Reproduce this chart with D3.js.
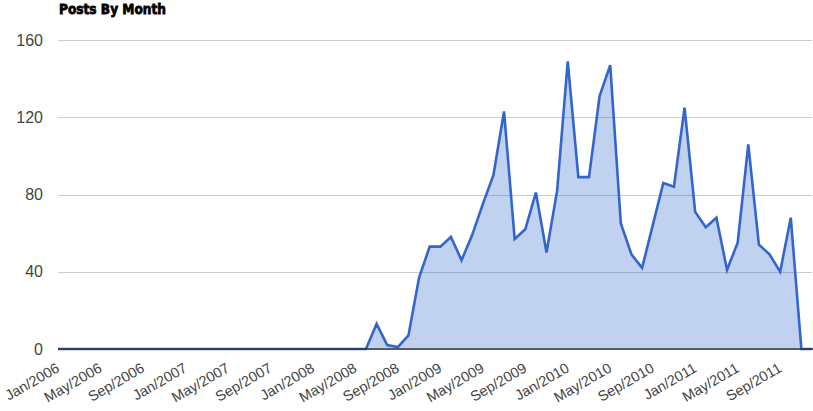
<!DOCTYPE html>
<html>
<head>
<meta charset="utf-8">
<script src="https://cdn.jsdelivr.net/npm/d3@7"></script>
<style>
  html, body { margin: 0; padding: 0; background: #fff; }
  svg { display: block; }
</style>
</head>
<body>
<svg id="chart" width="813" height="411"></svg>
<script>
const months = [
  "Jan/2006","Feb/2006","Mar/2006","Apr/2006","May/2006","Jun/2006","Jul/2006","Aug/2006","Sep/2006","Oct/2006","Nov/2006","Dec/2006",
  "Jan/2007","Feb/2007","Mar/2007","Apr/2007","May/2007","Jun/2007","Jul/2007","Aug/2007","Sep/2007","Oct/2007","Nov/2007","Dec/2007",
  "Jan/2008","Feb/2008","Mar/2008","Apr/2008","May/2008","Jun/2008","Jul/2008","Aug/2008","Sep/2008","Oct/2008","Nov/2008","Dec/2008",
  "Jan/2009","Feb/2009","Mar/2009","Apr/2009","May/2009","Jun/2009","Jul/2009","Aug/2009","Sep/2009","Oct/2009","Nov/2009","Dec/2009",
  "Jan/2010","Feb/2010","Mar/2010","Apr/2010","May/2010","Jun/2010","Jul/2010","Aug/2010","Sep/2010","Oct/2010","Nov/2010","Dec/2010",
  "Jan/2011","Feb/2011","Mar/2011","Apr/2011","May/2011","Jun/2011","Jul/2011","Aug/2011","Sep/2011","Oct/2011","Nov/2011","Dec/2011"
];
const posts = [
  0,0,0,0,0,0,0,0,0,0,0,0,
  0,0,0,0,0,0,0,0,0,0,0,0,
  0,0,0,0,0,0,13,2,1,7,37,53,
  53,58,46,59,75,90,123,57,62,81,50,82,
  149,89,89,131,147,65,49,42,64,86,84,125,
  71,63,68,41,55,106,54,49,40,68,0,0
];
const xTickLabels = ["Jan/2006","May/2006","Sep/2006","Jan/2007","May/2007","Sep/2007","Jan/2008","May/2008","Sep/2008",
  "Jan/2009","May/2009","Sep/2009","Jan/2010","May/2010","Sep/2010","Jan/2011","May/2011","Sep/2011"];
const yTicks = [0, 40, 80, 120, 160];
const chartTitle = "Posts By Month";

const data = months.map((m, i) => ({ month: m, value: posts[i] }));

const svg = d3.select("#chart");
const mLeft = 58, mRight = 812, mTop = 40, mBottom = 349;

const x = d3.scalePoint().domain(months).range([mLeft, mRight]).padding(0);
const y = d3.scaleLinear().domain([0, 160]).range([mBottom, mTop]);

// gridlines + y labels
const yAxis = d3.axisLeft(y).tickValues(yTicks).tickSize(-(mRight - mLeft)).tickPadding(15).tickFormat(d3.format("d"));
const gy = svg.append("g").attr("transform", `translate(${mLeft},0)`).call(yAxis);
gy.select(".domain").remove();
gy.selectAll(".tick line").attr("stroke", "#cccccc").attr("stroke-width", 1).attr("shape-rendering", "crispEdges");
gy.selectAll(".tick text").attr("fill", "#444").style("font-family", "'Liberation Sans', Arial, sans-serif").style("font-size", "16px");

// area + line
const area = d3.area().x(d => x(d.month)).y0(y(0)).y1(d => y(d.value));
const line = d3.line().x(d => x(d.month)).y(d => y(d.value));
svg.append("path").datum(data).attr("d", area).attr("fill", "#3366cc").attr("fill-opacity", 0.3);
svg.append("path").datum(data).attr("d", line).attr("fill", "none").attr("stroke", "#3366cc").attr("stroke-width", 2.6).attr("stroke-linejoin", "miter");

// baseline
svg.append("line").attr("x1", mLeft).attr("x2", 813).attr("y1", y(0)).attr("y2", y(0))
  .attr("stroke", "#333").attr("stroke-width", 1.5);

// x axis labels
const xAxis = d3.axisBottom(x).tickValues(xTickLabels).tickSize(0).tickPadding(0);
const gx = svg.append("g").attr("transform", `translate(0,${mBottom})`).call(xAxis);
gx.select(".domain").remove();
gx.selectAll(".tick text")
  .attr("fill", "#444")
  .style("font-family", "'Liberation Sans', Arial, sans-serif")
  .style("font-size", "14.5px")
  .attr("text-anchor", "end")
  .attr("y", 0).attr("dy", 0)
  .attr("transform", "translate(2,22) rotate(-30)");

// title
svg.append("text").attr("x", 59).attr("y", 14).text(chartTitle)
  .attr("fill", "#000")
  .attr("stroke", "#000").attr("stroke-width", 0.8)
  .style("font-family", "'DejaVu Sans', sans-serif")
  .style("font-weight", "900")
  .style("font-size", "14px")
  .attr("textLength", 107).attr("lengthAdjust", "spacingAndGlyphs");
</script>
</body>
</html>
